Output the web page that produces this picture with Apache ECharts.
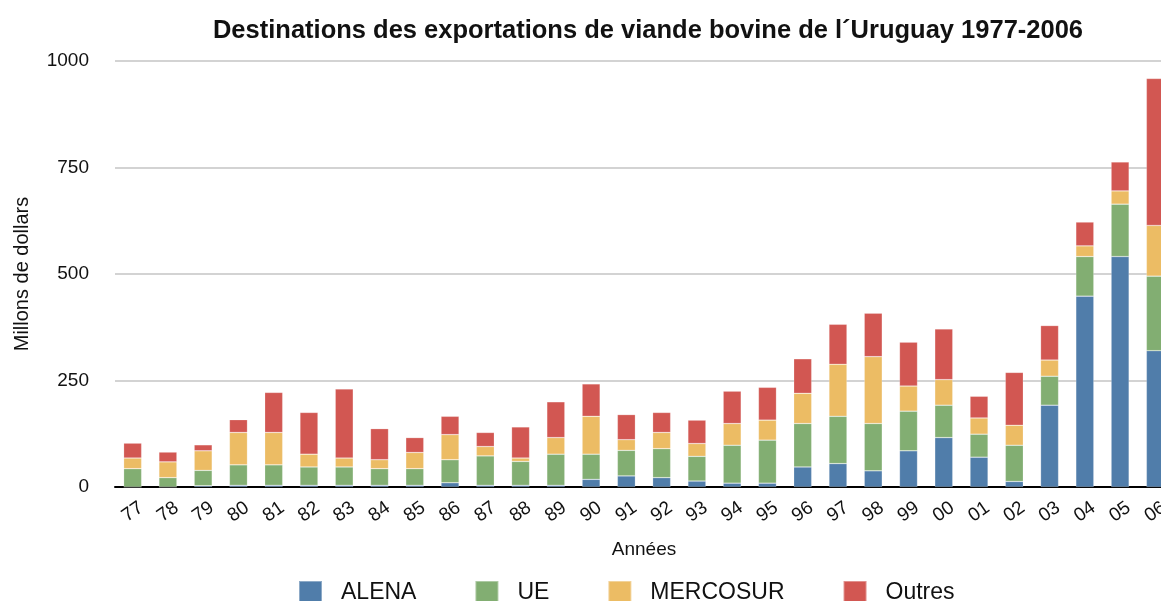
<!DOCTYPE html>
<html>
<head>
<meta charset="utf-8">
<script src="https://cdn.jsdelivr.net/npm/echarts@6/dist/echarts.min.js"></script>
<style>html,body{margin:0;padding:0;background:#fff;}#c{width:1161px;height:601px;}</style>
</head>
<body>
<div id="c"></div>
<script>
const years = ['77','78','79','80','81','82','83','84','85','86','87','88','89','90','91','92','93','94','95','96','97','98','99','00','01','02','03','04','05','06'];
const alena    = [0,0,3,4,4,4,4,4,4,10,4,4,4,18,26,22,14,9,9,47,55,38,85,116,70,13,192,448,541,320];
const ue       = [43,22,36,48,48,43,43,39,39,54,69,56,73,59,60,68,58,89,101,102,111,111,93,76,54,85,68,93,123,175];
const mercosur = [25,37,46,76,76,30,21,21,38,59,22,8,39,89,25,38,30,51,47,71,122,157,59,60,38,47,38,25,31,119];
const outres   = [35,23,14,30,94,98,162,73,35,43,33,73,84,76,59,47,55,76,77,81,94,102,103,119,51,124,81,56,68,345];
const yTicks = [0,250,500,750,1000];

const FONT = '"Liberation Sans", Arial, Helvetica, sans-serif';
const colors = ['#507DAA','#82AE72','#ECBC64','#D25752'];
const chart = echarts.init(document.getElementById('c'), null, {renderer:'canvas'});
const mk = (name, data, i) => ({
  name, type:'bar', stack:'total', data, barWidth:18,
  itemStyle:{color:colors[i], borderColor:'rgba(255,255,255,0.35)', borderWidth:0.6},
  emphasis:{disabled:true}
});
chart.setOption({
  animation:false,
  backgroundColor:'#ffffff',
  title:{
    text:"Destinations des exportations de viande bovine de l´Uruguay 1977-2006",
    left:643, textAlign:'center', top:13,
    textStyle:{fontFamily:FONT, fontSize:25.5, fontWeight:'bold', color:'#111'}
  },
  legend:{
    left:293, top:575, itemWidth:23, itemHeight:23, itemGap:58,
    icon:'rect',
    textStyle:{fontFamily:FONT, fontSize:23, color:'#111', padding:[0,0,0,14]},
    data:['ALENA','UE','MERCOSUR','Outres']
  },
  grid:{left:115, right:-12, top:61, bottom:114, containLabel:false, outerBoundsMode:'none'},
  xAxis:{
    type:'category', data:years,
    name:'Années', nameLocation:'middle', nameGap:53,
    nameTextStyle:{fontFamily:FONT, fontSize:19, color:'#111'},
    axisLine:{lineStyle:{color:'#000', width:2}},
    axisTick:{show:false},
    axisLabel:{rotate:35, margin:25, align:'center', verticalAlign:'middle',
      fontFamily:FONT, fontSize:19, color:'#111', interval:0}
  },
  yAxis:{
    type:'value', min:0, max:1000, interval:250,
    name:'Millons de dollars', nameLocation:'middle', nameGap:83, nameRotate:90,
    nameTextStyle:{fontFamily:FONT, fontSize:20, color:'#111'},
    axisLine:{show:false}, axisTick:{show:false},
    axisLabel:{margin:26, fontFamily:FONT, fontSize:19, color:'#111',
      formatter: v => yTicks.includes(v) ? String(v) : ''},
    splitLine:{lineStyle:{color:'#c4c4c4', width:1.5}}
  },
  series:[mk('ALENA',alena,0), mk('UE',ue,1), mk('MERCOSUR',mercosur,2), mk('Outres',outres,3)]
});
</script>
</body>
</html>
